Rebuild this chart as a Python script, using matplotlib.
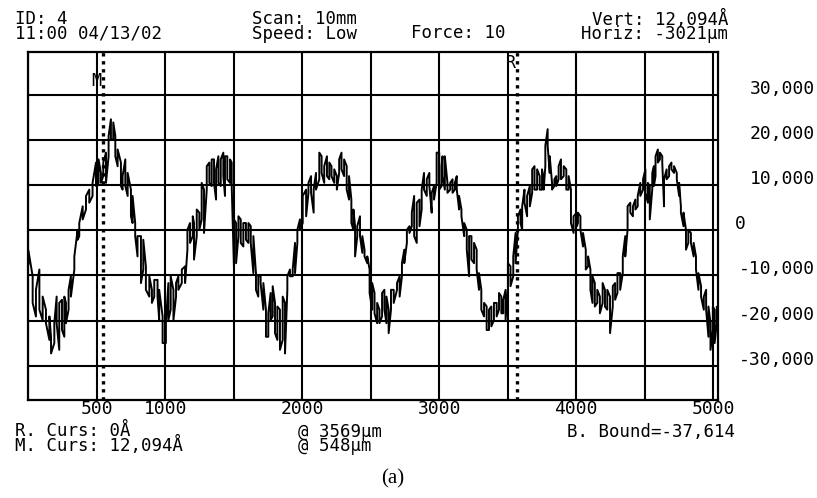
import matplotlib
matplotlib.use('Agg')
import matplotlib.pyplot as plt
import matplotlib.transforms as mtransforms

# profilometer trace: position (um) and the lower / upper
# edge of the noisy band at that position (thousands of Angstrom)
pos_um = [3, 34, 58, 83, 107, 131, 156, 168, 192, 209, 228, 248, 265, 277, 296, 313,
          338, 362, 374, 399, 423, 447, 471, 496, 515, 532, 549, 569, 588, 605, 622,
          637, 654, 678, 690, 710, 727, 751, 763, 782, 799, 824, 841, 860, 885, 904,
          921, 945, 957, 982, 1006,
          1024, 1041, 1061, 1080, 1097, 1122, 1146, 1163, 1182, 1202, 1211, 1231, 1250,
          1267, 1284, 1304, 1323, 1340, 1357, 1372, 1389, 1406, 1425, 1437, 1454, 1474,
          1486, 1503, 1518, 1535, 1552, 1571, 1590, 1608, 1625, 1644, 1663, 1680, 1697,
          1717, 1736, 1753, 1770, 1785, 1802, 1819, 1838, 1858, 1875, 1892, 1911, 1931,
          1948, 1965, 1984, 2004,
          2029, 2046, 2065, 2084, 2101, 2125, 2142, 2161, 2181, 2198, 2214, 2234, 2253,
          2270, 2287, 2306, 2325, 2342, 2359, 2374, 2386, 2402, 2422, 2439, 2455, 2475,
          2492, 2511, 2528, 2547, 2564, 2583, 2600, 2615, 2631, 2648, 2668, 2692, 2711,
          2728, 2745, 2764, 2783, 2800, 2817, 2836, 2856, 2872, 2889, 2909, 2928, 2945,
          2962, 2981, 3000, 3017,
          3024, 3041, 3060, 3080, 3097, 3114, 3128, 3145, 3162, 3182, 3201, 3218, 3235,
          3254, 3273, 3290, 3307, 3327, 3346, 3363, 3380, 3399, 3419, 3436, 3453, 3467,
          3484, 3501, 3520, 3540, 3557, 3574, 3593, 3605, 3622, 3641, 3661, 3678, 3695,
          3714, 3733, 3750, 3762, 3774, 3791, 3806, 3823, 3840, 3854, 3871, 3888, 3908,
          3927, 3944, 3961, 3980, 4004,
          4012, 4030, 4049, 4069, 4086, 4103, 4118, 4135, 4153, 4172, 4192, 4209, 4226,
          4246, 4266, 4283, 4300, 4320, 4339, 4357, 4374, 4394, 4413, 4431, 4448, 4467,
          4487, 4504, 4522, 4536, 4554, 4566, 4578, 4595, 4610, 4627, 4640, 4659, 4677,
          4694, 4713, 4733, 4750, 4763, 4782, 4800, 4817, 4836, 4856, 4873, 4891, 4910,
          4930, 4947, 4964, 4979, 4996, 5009, 5025]

band_lo = [-7.5, -16.1, -19.1, -17.6, -19.9, -20.6, -24.3, -27.3, -25.0, -20.6, -26.5, -22.1,
           -23.6, -20.6, -17.6, -14.7, -8.7, -2.1, -1.3, 2.4, 4.6, 6.1, 7.6, 9.8, 10.5,
           10.5, 12.0, 10.5, 16.4, 20.1, 20.1, 16.4, 14.2, 9.8, 9.0, 9.8, 7.6, 3.1, 1.6,
           -1.3, -5.8, -11.7, -8.7, -13.2, -14.7, -16.1, -14.7, -14.7, -19.9, -25.0, -25.0,
           -19.9, -17.6, -19.9, -14.7, -13.2, -11.7, -11.7, -4.3, -2.8, -1.3, -6.5, -1.3,
           0.1, 2.4, -0.6, 9.0, 10.5, 9.8, 10.5, 6.8, 10.5, 9.8, 12.0, 7.6, 11.3, 10.5,
           9.8, -8.7, -7.3, -1.3, -2.8, -3.6, -2.1, -2.8, -2.8, -9.5, -13.2, -14.7, -11.7,
           -17.6, -23.6, -23.6, -19.9, -19.1, -22.8, -24.3, -26.5, -24.3, -27.3, -13.2,
           -10.2, -10.2, -9.5, -2.8, 0.1, 1.6,
           3.1, 8.3, 8.3, 3.9, 9.0, 11.3, 12.7, 10.5, 12.0, 11.3, 12.0, 10.5, 9.0, 12.7,
           13.5, 12.0, 9.0, 6.8, 1.6, 0.1, -5.8, -1.3, -1.3, -5.0, -5.8, -7.3, -13.9,
           -17.6, -18.4, -20.6, -20.6, -19.1, -17.6, -20.6, -22.8, -17.6, -16.1, -13.2,
           -14.7, -10.2, -7.3, -2.8, -0.6, 0.9, -1.3, -2.8, 0.9, 4.6, 9.0, 7.6, 9.8, 3.9,
           6.8, 10.5, 9.0, 9.8,
           12.0, 9.0, 8.3, 9.0, 8.3, 9.0, 9.0, 4.6, 3.1, -1.3, -4.3, -10.2, -6.5, -7.3,
           -8.7, -13.2, -17.6, -19.1, -22.1, -22.1, -21.3, -19.9, -19.1, -17.6, -18.4,
           -18.4, -19.9, -13.2, -12.4, -10.2, -7.3, 0.1, 1.6, 0.1, 6.1, 3.1, 5.3, 8.3, 9.0,
           9.0, 9.0, 9.0, 9.0, 14.2, 18.7, 12.7, 9.0, 9.8, 9.8, 11.3, 11.3, 12.0, 9.0, 9.0,
           1.6, -0.6, 0.9,
           1.6, 0.1, -3.6, -8.7, -8.0, -13.2, -16.1, -16.9, -16.1, -18.4, -16.1, -16.9,
           -17.6, -22.8, -16.9, -15.4, -13.9, -13.2, -9.5, -5.8, 0.1, 3.9, 3.1, 4.6, 5.3,
           7.6, 9.0, 8.3, 6.1, 2.4, 9.0, 9.8, 12.0, 15.0, 15.7, 15.0, 5.3, 11.3, 12.0,
           13.5, 12.7, 11.3, 7.6, 3.9, 0.9, -4.3, -2.8, -2.8, -5.8, -8.7, -13.2, -14.7,
           -17.6, -17.6, -23.6, -26.5, -22.1, -25.0, -20.6]

band_hi = [-4.5, -10.2, -13.2, -8.7, -14.7, -17.6, -19.1, -23.6, -20.6, -14.7, -16.1, -15.4,
           -14.7, -16.1, -13.2, -10.2, -5.8, 0.1, 1.6, 5.3, 7.6, 9.0, 10.5, 15.0, 15.7,
           12.7, 15.0, 17.2, 20.9, 24.6, 23.9, 20.9, 17.9, 15.0, 12.0, 15.7, 12.7, 9.0,
           7.6, 1.6, -1.3, -1.3, -2.1, -8.0, -10.2, -13.2, -11.0, -11.0, -13.2, -19.1,
           -20.6,
           -11.7, -10.2, -13.2, -11.7, -10.2, -8.7, -8.0, 0.1, 1.6, 3.1, 1.6, 4.6, 3.9,
           10.5, 9.0, 14.2, 15.0, 15.7, 15.7, 13.5, 16.4, 15.7, 17.2, 16.4, 16.4, 15.7,
           15.0, 2.4, 1.6, 3.1, 2.4, 1.6, 1.6, 1.6, 0.9, -1.3, -9.5, -10.2, -10.2, -11.7,
           -17.6, -18.4, -13.9, -12.4, -16.1, -16.9, -17.6, -14.7, -16.1, -10.2, -8.7,
           -8.7, -2.8, 0.1, 2.4, 7.6,
           9.0, 10.5, 12.0, 9.0, 12.7, 17.2, 16.4, 14.2, 16.4, 15.0, 14.2, 13.5, 12.0,
           15.7, 17.2, 15.7, 14.2, 12.0, 6.8, 4.6, 0.9, 0.9, 3.1, -1.3, -4.3, -5.8, -8.7,
           -11.7, -13.9, -16.1, -17.6, -13.9, -13.2, -14.7, -17.6, -13.2, -13.2, -11.7,
           -10.2, -7.3, -4.3, 0.1, 0.9, 3.9, 7.6, 6.1, 6.8, 9.0, 12.7, 11.3, 12.7, 8.3,
           9.8, 17.2, 17.2, 14.2,
           16.4, 16.4, 10.5, 10.5, 11.3, 10.5, 12.0, 7.6, 4.6, 1.6, 0.1, -1.3, -1.3, -2.8,
           -4.3, -9.5, -13.2, -16.1, -16.9, -17.6, -16.9, -16.1, -16.1, -13.9, -14.7,
           -15.4, -13.2, -7.3, -8.0, -5.8, -0.6, 3.1, 4.6, 5.3, 9.0, 7.6, 9.8, 13.5, 14.2,
           13.5, 12.0, 13.5, 11.3, 18.7, 22.4, 16.4, 10.5, 11.3, 12.0, 14.2, 15.7, 14.2,
           13.5, 12.0, 9.0, 3.1, 3.9,
           3.9, 3.1, -0.6, -4.3, -5.8, -8.7, -10.2, -11.7, -13.2, -14.7, -11.7, -13.2,
           -13.2, -14.7, -12.4, -11.7, -9.5, -9.5, -5.8, -1.3, 5.3, 6.1, 5.3, 6.8, 7.6,
           10.5, 11.3, 13.5, 10.5, 9.8, 12.7, 14.2, 16.4, 17.9, 17.2, 16.4, 11.3, 13.5,
           14.2, 15.0, 14.2, 12.7, 10.5, 5.3, 3.9, 0.1, 0.1, -0.6, -2.8, -5.8, -9.5, -12.4,
           -14.7, -13.2, -16.9, -20.6, -16.9, -17.6, -17.0]

grid_x = [0, 500, 1000, 1500, 2000, 2500, 3000, 3500, 4000, 4500, 5000]
grid_y = [-30000, -20000, -10000, 0, 10000, 20000, 30000]
xtick_vals = [500, 1000, 2000, 3000, 4000, 5000]
xtick_text = ['500', '1000', '2000', '3000', '4000', '5000']
ytick_vals = [30000, 20000, 10000, 0, -10000, -20000, -30000]
ytick_text = ['30,000', '20,000', '10,000', '0', '-10,000', '-20,000', '-30,000']

cursor_m = 548
cursor_r = 3569
bound_low = -37614
top_val = 39500

W, H = 817, 498
MONO = 'DejaVu Sans Mono'
FS = 13          # tick numbers
FS_INFO = 12.5   # header / footer blocks

fig = plt.figure(figsize=(W / 100, H / 100), dpi=100)
ax = fig.add_axes([28 / W, 1 - 400 / H, (717.5 - 28) / W, (400 - 52) / H])


def fy(y):
    return 1 - y / H


# trace: each column is drawn as a vertical stroke between its band edges
xs, ys = [], []
for i, (p, lo, hi) in enumerate(zip(pos_um, band_lo, band_hi)):
    first, second = (lo, hi) if i % 2 == 0 else (hi, lo)
    xs += [p, p]
    ys += [first * 1000, second * 1000]
ax.plot(xs, ys, color='black', lw=1.4, zorder=3)

for gx in grid_x:
    ax.axvline(gx, color='black', lw=1.5, zorder=1)
for gy in grid_y:
    ax.axhline(gy, color='black', lw=1.5, zorder=1)

# cursors
for c in (cursor_m, cursor_r):
    ax.axvline(c, color='black', lw=2.4, ls=(0, (1, 1.4)), zorder=4)
ax.text(cursor_m - 12, 33000, 'M', ha='right', va='center', family=MONO, fontsize=12)
ax.text(cursor_r - 12, 37000, 'R', ha='right', va='center', family=MONO, fontsize=12)

ax.set_xlim(0, 5030)
ax.set_ylim(bound_low, top_val)
ax.set_xticks([])
ax.set_yticks([])
for s in ax.spines.values():
    s.set_linewidth(1.6)

# x labels below the frame
tx = mtransforms.blended_transform_factory(ax.transData, fig.transFigure)
for v, t in zip(xtick_vals, xtick_text):
    ax.text(v, fy(409), t, transform=tx, ha='center', va='center', family=MONO, fontsize=FS)

# y labels on the right, sitting a little above their grid lines
ty = mtransforms.offset_copy(
    mtransforms.blended_transform_factory(fig.transFigure, ax.transData), fig=fig, y=6, units='dots')
for v, t in zip(ytick_vals, ytick_text):
    if t == '0':
        ax.text(735 / W, v, t, transform=ty, ha='left', va='center', family=MONO, fontsize=FS)
    else:
        ax.text(815 / W, v, t, transform=ty, ha='right', va='center', family=MONO, fontsize=FS)

# header (two printed lines, kept as column blocks)
info = dict(family=MONO, fontsize=FS_INFO, va='top', linespacing=0.74)
fig.text(15 / W, fy(10.5), 'ID: 4\n11:00 04/13/02', ha='left', **info)
fig.text(304 / W, fy(10.5), 'Scan: 10mm\nSpeed: Low', ha='center', multialignment='center', **info)
fig.text(458 / W, fy(24.5), 'Force: 10', ha='center', **info)
fig.text(728 / W, fy(9.5), 'Vert: 12,094Å\nHoriz: -3021µm', ha='right', multialignment='right', **info)

# footer
fig.text(15 / W, fy(422), 'R. Curs: 0Å\nM. Curs: 12,094Å', ha='left', **info)
fig.text(298 / W, fy(423), '@ 3569µm\n@ 548µm', ha='left', **info)
fig.text(735 / W, fy(423), 'B. Bound=-37,614', ha='right', **info)

fig.text(393 / W, fy(479), '(a)', ha='center', va='center', family='Liberation Serif', fontsize=15)

fig.savefig('out.png', dpi=100)
